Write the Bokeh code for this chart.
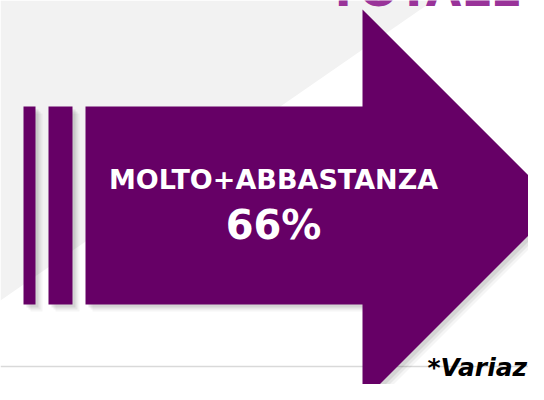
from bokeh.plotting import figure
from bokeh.models import Range1d
from bokeh.core.properties import value
from bokeh.embed import file_html
from bokeh.resources import INLINE

# ---- data ----
categories = ["MOLTO+ABBASTANZA"]
values = [66]
title_text = ["TOTALE"]
note_text = ["*Variaz"]

PURPLE = "#660066"
TITLE_PURPLE = "#993399"
BG_GRAY = "#f2f2f2"
FONT = "DejaVu Sans"

p = figure(width=528, height=384, output_backend="svg", toolbar_location=None,
           x_range=Range1d(0, 528), y_range=Range1d(384, 0),
           min_border=0, background_fill_color="white", border_fill_color="white")
p.axis.visible = False
p.grid.visible = False
p.outline_line_color = None

# background diagonal gray area
p.patch([0, 433, 0], [0, 0, 300], fill_color=BG_GRAY, line_color=None)

# horizontal rule
p.segment(x0=[0], y0=[366], x1=[544], y1=[366], line_color="#d9d9d9", line_width=1.5)

# arrow geometry (layout)
ax = [85, 362, 362, 558, 362, 362, 85]
ay = [106, 106, 9, 205, 401, 304, 304]
bars = [(23, 35), (48, 72)]

# soft shadows
for off, alpha in [(7, 0.04), (5, 0.06), (3, 0.08)]:
    p.patch([x + off for x in ax], [y + off for y in ay], fill_color="black",
            fill_alpha=alpha, line_color=None)
    for (l, r) in bars:
        p.quad(left=[l + off], right=[r + off], top=[106 + off], bottom=[304 + off],
               fill_color="black", fill_alpha=alpha, line_color=None)

# arrow + bars
p.patch(ax, ay, fill_color=PURPLE, line_color=None)
for (l, r) in bars:
    p.quad(left=[l], right=[r], top=[106], bottom=[304], fill_color=PURPLE, line_color=None)

# texts (y = visual baseline minus ~0.35 em, as the svg text is drawn centred-ish)
value_labels = [f"{v}%" for v in values]
p.text(x=[273], y=[178.5], text=categories, text_color="white",
       text_font=value(FONT), text_font_style="bold", text_font_size="27px",
       text_align="center", text_baseline="alphabetic")
p.text(x=[273], y=[224], text=value_labels, text_color="white",
       text_font=value(FONT), text_font_style="bold", text_font_size="40px",
       text_align="center", text_baseline="alphabetic")

p.text(x=[327], y=[-11], text=title_text, text_color=TITLE_PURPLE,
       text_font=value(FONT), text_font_style="bold", text_font_size="46px",
       text_align="left", text_baseline="alphabetic")
p.text(x=[427], y=[367], text=note_text, text_color="black",
       text_font=value(FONT), text_font_style="bold italic", text_font_size="25px",
       text_align="left", text_baseline="alphabetic")

open("out.html", "w").write(file_html(p, INLINE))
